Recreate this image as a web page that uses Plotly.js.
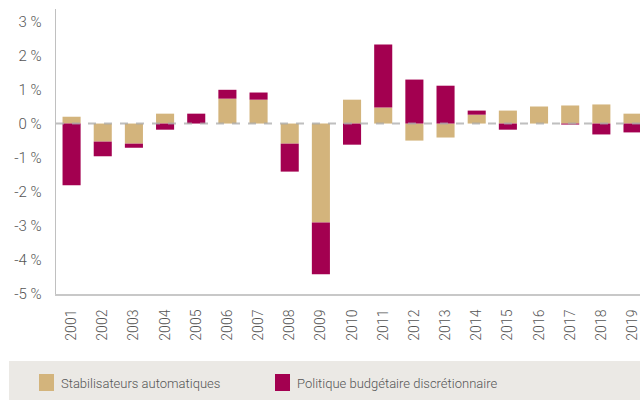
<!DOCTYPE html>
<html><head><meta charset="utf-8">
<script src="https://cdn.plot.ly/plotly-3.0.1.min.js"></script>
<style>html,body{margin:0;padding:0;background:#fff}#chart{width:640px;height:400px}</style>
</head><body><div id="chart"></div>
<script>
const years = ['2001','2002','2003','2004','2005','2006','2007','2008','2009','2010','2011','2012','2013','2014','2015','2016','2017','2018','2019'];
const stabilisateurs = [0.20,-0.53,-0.59,0.29,0.0,0.73,0.70,-0.59,-2.90,0.70,0.47,-0.50,-0.41,0.26,0.38,0.50,0.53,0.56,0.29];
const politique = [-1.81,-0.43,-0.12,-0.18,0.29,0.26,0.21,-0.82,-1.52,-0.62,1.85,1.29,1.11,0.12,-0.18,0.0,-0.03,-0.32,-0.26];
const seriesNames = ['Stabilisateurs automatiques','Politique budgétaire discrétionnaire'];
const seriesColors = ['#d3b47c','#a30050'];
const yTicks = [-5,-4,-3,-2,-1,0,1,2,3];
const yTickText = ['-5 %','-4 %','-3 %','-2 %','-1 %','0 %','1 %','2 %','3 %'];

const W=640,H=400,L=56,R=0,T=9,B=106;
const pw=W-L-R, ph=H-T-B;
const px=v=>(v-L)/pw, py=v=>(H-B-v)/ph;

const font={family:'Roboto, Liberation Sans, Arial, sans-serif',color:'#555',size:14,weight:300};
const legendFont={family:font.family,color:'#555',size:13,weight:300};
const traces=[
 {type:'bar',x:years,y:stabilisateurs,name:seriesNames[0],marker:{color:seriesColors[0]},width:0.58,showlegend:false,hoverinfo:'skip'},
 {type:'bar',x:years,y:politique,name:seriesNames[1],marker:{color:seriesColors[1]},width:0.58,showlegend:false,hoverinfo:'skip'}
];
const shapes=[
 {type:'line',xref:'paper',yref:'y',x0:0,x1:1,y0:0,y1:0,layer:'above',line:{color:'rgba(170,170,170,0.75)',width:2,dash:'8px,8px'}},
 {type:'rect',xref:'paper',yref:'paper',x0:px(9),x1:px(640),y0:py(361),y1:py(400),fillcolor:'#ebe9e5',line:{width:0},layer:'below'},
 {type:'rect',xref:'paper',yref:'paper',x0:px(39),x1:px(54),y0:py(374),y1:py(391),fillcolor:seriesColors[0],line:{width:0}},
 {type:'rect',xref:'paper',yref:'paper',x0:px(275),x1:px(290),y0:py(374),y1:py(391),fillcolor:seriesColors[1],line:{width:0}}
];
const annotations=[
 {xref:'paper',yref:'paper',x:px(59),y:py(383),xanchor:'left',yanchor:'middle',text:seriesNames[0],showarrow:false,font:legendFont},
 {xref:'paper',yref:'paper',x:px(295),y:py(383),xanchor:'left',yanchor:'middle',text:seriesNames[1],showarrow:false,font:legendFont}
];
const layout={
 width:W,height:H,margin:{l:L,r:R,t:T,b:B},paper_bgcolor:'#fff',plot_bgcolor:'#fff',
 barmode:'relative',font:font,showlegend:false,
 xaxis:{type:'category',range:[-0.5,18.24],showline:true,linecolor:'#c8c8c8',linewidth:2,tickangle:-90,ticks:'',showgrid:false,zeroline:false,tickfont:{family:font.family,weight:300,size:14,color:'#555'},ticklabelstandoff:8},
 yaxis:{range:[-5,3.36],tickvals:yTicks,ticktext:yTickText,showline:true,linecolor:'#c0c0c0',linewidth:1.5,ticks:'',showgrid:false,zeroline:false,tickfont:{family:font.family,weight:300,size:15,color:'#555'},ticklabelstandoff:10},
 shapes:shapes,annotations:annotations
};
Plotly.newPlot('chart',traces,layout,{staticPlot:true,displayModeBar:false});
</script></body></html>
